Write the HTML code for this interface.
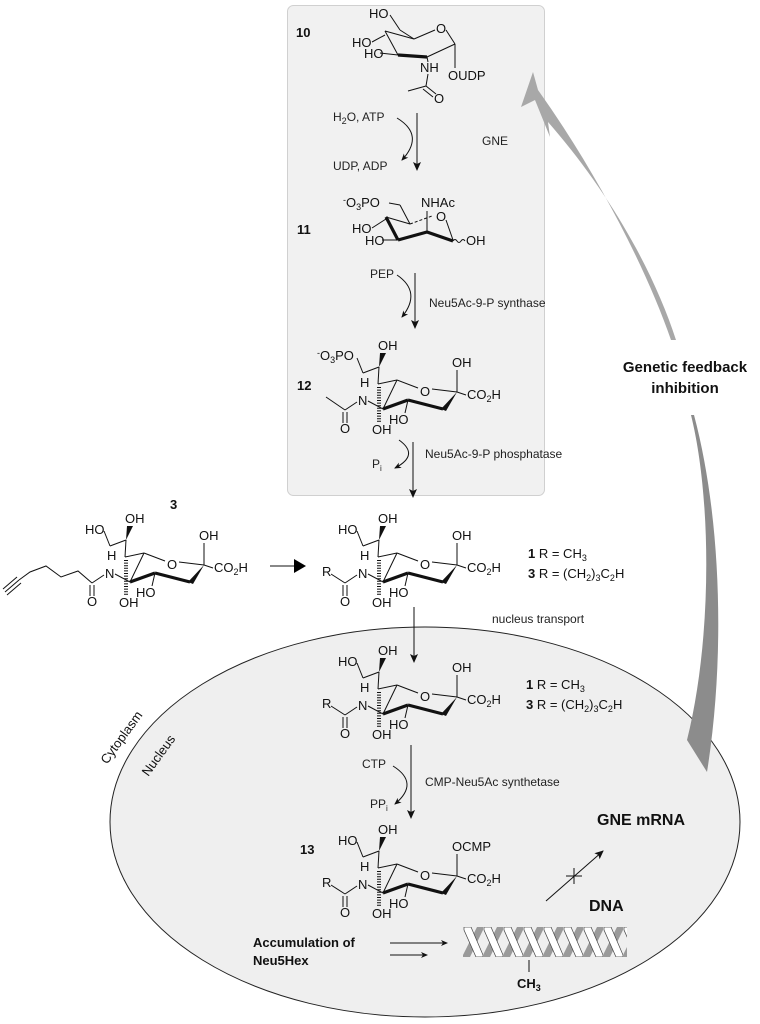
<!DOCTYPE html>
<html><head><meta charset="utf-8"><style>
html,body{margin:0;padding:0;background:#fff;}
svg{display:block;font-family:"Liberation Sans",Arial,sans-serif;}
.t{font-size:13px;fill:#111;}
.s{font-size:12px;fill:#222;}
.b{font-weight:bold;}
line,polyline,path.l{stroke:#111;stroke-width:1;fill:none;}
.bold{stroke-width:3.2;}
.hash{stroke-width:4;stroke-dasharray:1 1.6;}
</style></head><body>
<svg width="760" height="1024" viewBox="0 0 760 1024" xmlns="http://www.w3.org/2000/svg">
<defs>
<marker id="ah" markerWidth="10" markerHeight="10" refX="8" refY="5" orient="auto" markerUnits="userSpaceOnUse"><path d="M0,1 L9,5 L0,9 L2,5 Z" fill="#111"/></marker>
<marker id="sh" markerWidth="8" markerHeight="8" refX="6" refY="4" orient="auto" markerUnits="userSpaceOnUse"><path d="M0,1 L7,4 L0,7 L2,4 Z" fill="#111"/></marker>
<pattern id="hx" x="463" y="927" width="20" height="30" patternUnits="userSpaceOnUse">
<polygon points="0,30 7,30 20,3 20,0 14,0 0,28" fill="#9a9a9a"/>
<polygon points="1,0 8,0 20,28 20,30 13,30 1,3" fill="#fff" stroke="#444" stroke-width="0.7"/>
</pattern>
</defs>

<ellipse cx="425" cy="822" rx="315" ry="195" fill="#efefef" stroke="#222" stroke-width="1"/>
<rect x="287.5" y="5.5" width="257" height="490" rx="6" fill="#f1f1f1" stroke="#d0d0d0"/>

<path d="M671 340 C 645 265, 595 170, 538 90 L 533 72 L 521 107 L 535 100 L 550 137 L 548 122 C 612 195, 655 275, 676 340 Z" fill="#a8a8a8"/>
<path d="M691 415 C 712 500, 712 640, 687 740 L 707 772 C 725 660, 722 520, 694 415 Z" fill="#8c8c8c"/>
<text x="685" y="372" class="b" font-size="15" text-anchor="middle" fill="#111">Genetic feedback</text>
<text x="685" y="393" class="b" font-size="15" text-anchor="middle" fill="#111">inhibition</text>

<!-- compound 10 -->
<text x="296" y="37" class="t b" font-size="12">10</text>
<text x="369" y="18" class="t">HO</text>
<text x="436" y="33" class="t">O</text>
<text x="352" y="47" class="t">HO</text>
<text x="364" y="58" class="t">HO</text>
<text x="420" y="72" class="t">NH</text>
<text x="448" y="80" class="t">OUDP</text>
<text x="434" y="103" class="t">O</text>
<line x1="390" y1="15" x2="400" y2="30"/><line x1="400" y1="30" x2="414" y2="39"/>
<line x1="385" y1="31" x2="414" y2="39"/><line x1="414" y1="39" x2="435" y2="30"/>
<line x1="446" y1="30" x2="455" y2="44"/>
<line x1="385" y1="31" x2="398" y2="55"/>
<line class="bold" x1="398" y1="55" x2="427" y2="57"/><line x1="427" y1="57" x2="455" y2="44"/>
<line x1="372" y1="42" x2="385" y2="35"/><line x1="380" y1="53" x2="398" y2="55"/>
<line x1="427" y1="57" x2="428" y2="62"/><line x1="455" y1="44" x2="455" y2="68"/>
<line x1="428" y1="74" x2="426" y2="86"/><line x1="426" y1="86" x2="408" y2="91"/>
<line x1="426" y1="86" x2="436" y2="94"/><line x1="423" y1="89" x2="433" y2="97"/>

<line x1="417" y1="113" x2="417" y2="170" marker-end="url(#ah)"/>
<text x="333" y="121" class="s">H<tspan font-size="9" dy="3">2</tspan><tspan dy="-3">O, ATP</tspan></text>
<path class="l" d="M397 118 Q 425 135 402 160" marker-end="url(#sh)"/>
<text x="333" y="170" class="s">UDP, ADP</text>
<text x="482" y="145" class="s">GNE</text>

<!-- compound 11 -->
<text x="297" y="234" class="t b" font-size="12">11</text>
<text x="343" y="207" class="t"><tspan font-size="9" dy="-4">-</tspan><tspan dy="4">O</tspan><tspan font-size="9" dy="3">3</tspan><tspan dy="-3">PO</tspan></text>
<text x="421" y="207" class="t">NHAc</text>
<text x="436" y="221" class="t">O</text>
<text x="352" y="233" class="t">HO</text>
<text x="365" y="245" class="t">HO</text>
<text x="466" y="245" class="t">OH</text>
<line x1="389" y1="203" x2="400" y2="205"/><line x1="400" y1="205" x2="410" y2="224"/>
<line x1="386" y1="217" x2="410" y2="224"/><line x1="410" y1="224" x2="432" y2="216" stroke-dasharray="3 2"/>
<line x1="446" y1="220" x2="453" y2="240"/>
<line class="bold" x1="386" y1="217" x2="398" y2="240"/>
<line class="bold" x1="398" y1="240" x2="427" y2="232"/><line class="bold" x1="427" y1="232" x2="453" y2="241"/>
<line x1="427" y1="232" x2="427" y2="211"/>
<line x1="372" y1="228" x2="386" y2="219"/><line x1="382" y1="240" x2="398" y2="240"/>
<path class="l" d="M453 241 q2 -3 4 0 q2 3 4 0 q2 -3 4 0"/>

<line x1="415" y1="273" x2="415" y2="328" marker-end="url(#ah)"/>
<text x="370" y="278" class="s">PEP</text>
<path class="l" d="M397 275 Q 422 292 402 317" marker-end="url(#sh)"/>
<text x="429" y="307" class="s">Neu5Ac-9-P synthase</text>

<!-- compound 12 -->
<text x="297" y="390" class="t b" font-size="12">12</text>
<g transform="translate(0,-173)">
<line x1="357" y1="531" x2="363" y2="546"/><line x1="363" y1="546" x2="379" y2="540"/>
<polygon points="379,540 380,526 386,526" fill="#111"/>
<line x1="379" y1="540" x2="378" y2="557"/><line x1="378" y1="557" x2="397" y2="553"/>
<line x1="397" y1="553" x2="418" y2="561"/><line x1="432" y1="562" x2="457" y2="565"/>
<line x1="457" y1="565" x2="457" y2="543"/><line x1="457" y1="565" x2="466" y2="568"/>
<polygon points="457,565 441,582 446,584" fill="#111"/>
<line class="bold" x1="443" y1="582" x2="408" y2="573"/><line class="bold" x1="408" y1="573" x2="383" y2="582"/>
<line x1="397" y1="553" x2="383" y2="582"/><line x1="408" y1="573" x2="405" y2="586"/>
<line class="hash" x1="379" y1="560" x2="379" y2="596"/>
<line x1="383" y1="582" x2="368" y2="574"/><line x1="357" y1="575" x2="345" y2="583"/>
<line x1="345" y1="583" x2="326" y2="570"/>
<line x1="343" y1="585" x2="343" y2="596"/><line x1="347" y1="585" x2="347" y2="596"/>
<text x="317" y="533" class="t"><tspan font-size="9" dy="-4">-</tspan><tspan dy="4">O</tspan><tspan font-size="9" dy="3">3</tspan><tspan dy="-3">PO</tspan></text>
<text x="378" y="523" class="t">OH</text><text x="360" y="560" class="t">H</text><text x="358" y="578" class="t">N</text>
<text x="340" y="606" class="t">O</text><text x="372" y="607" class="t">OH</text><text x="389" y="597" class="t">HO</text>
<text x="420" y="569" class="t">O</text><text x="452" y="540" class="t">OH</text>
<text x="467" y="572" class="t">CO<tspan font-size="9" dy="3">2</tspan><tspan dy="-3">H</tspan></text>
</g>

<line x1="413" y1="442" x2="413" y2="497" marker-end="url(#ah)"/>
<path class="l" d="M399 440 Q 420 455 395 468" marker-end="url(#sh)"/>
<text x="425" y="458" class="s">Neu5Ac-9-P phosphatase</text>
<text x="372" y="468" class="s">P<tspan font-size="8" dy="3">i</tspan></text>

<!-- compound 3 -->
<text x="170" y="509" class="t b" font-size="12">3</text>
<g transform="translate(-253,0)">
<line x1="357" y1="531" x2="363" y2="546"/><line x1="363" y1="546" x2="379" y2="540"/>
<polygon points="379,540 380,526 386,526" fill="#111"/>
<line x1="379" y1="540" x2="378" y2="557"/><line x1="378" y1="557" x2="397" y2="553"/>
<line x1="397" y1="553" x2="418" y2="561"/><line x1="432" y1="562" x2="457" y2="565"/>
<line x1="457" y1="565" x2="457" y2="543"/><line x1="457" y1="565" x2="466" y2="568"/>
<polygon points="457,565 441,582 446,584" fill="#111"/>
<line class="bold" x1="443" y1="582" x2="408" y2="573"/><line class="bold" x1="408" y1="573" x2="383" y2="582"/>
<line x1="397" y1="553" x2="383" y2="582"/><line x1="408" y1="573" x2="405" y2="586"/>
<line class="hash" x1="379" y1="560" x2="379" y2="596"/>
<line x1="383" y1="582" x2="368" y2="574"/><line x1="357" y1="575" x2="345" y2="583"/>
<line x1="343" y1="585" x2="343" y2="596"/><line x1="347" y1="585" x2="347" y2="596"/>
<text x="338" y="534" class="t">HO</text>
<text x="378" y="523" class="t">OH</text><text x="360" y="560" class="t">H</text><text x="358" y="578" class="t">N</text>
<text x="340" y="606" class="t">O</text><text x="372" y="607" class="t">OH</text><text x="389" y="597" class="t">HO</text>
<text x="420" y="569" class="t">O</text><text x="452" y="540" class="t">OH</text>
<text x="467" y="572" class="t">CO<tspan font-size="9" dy="3">2</tspan><tspan dy="-3">H</tspan></text>
</g>
<polyline points="92,583 78,571 61,577 46,566 30,572 19,580"/>
<line x1="19" y1="580" x2="5" y2="592"/><line x1="17" y1="577" x2="3" y2="589"/><line x1="21" y1="583" x2="7" y2="595"/>
<line x1="270" y1="566" x2="296" y2="566" stroke="#000" stroke-width="5"/>
<polygon points="294,559 306,566 294,573" fill="#000"/>

<!-- compound B -->
<g>
<line x1="357" y1="531" x2="363" y2="546"/><line x1="363" y1="546" x2="379" y2="540"/>
<polygon points="379,540 380,526 386,526" fill="#111"/>
<line x1="379" y1="540" x2="378" y2="557"/><line x1="378" y1="557" x2="397" y2="553"/>
<line x1="397" y1="553" x2="418" y2="561"/><line x1="432" y1="562" x2="457" y2="565"/>
<line x1="457" y1="565" x2="457" y2="543"/><line x1="457" y1="565" x2="466" y2="568"/>
<polygon points="457,565 441,582 446,584" fill="#111"/>
<line class="bold" x1="443" y1="582" x2="408" y2="573"/><line class="bold" x1="408" y1="573" x2="383" y2="582"/>
<line x1="397" y1="553" x2="383" y2="582"/><line x1="408" y1="573" x2="405" y2="586"/>
<line class="hash" x1="379" y1="560" x2="379" y2="596"/>
<line x1="383" y1="582" x2="368" y2="574"/><line x1="357" y1="575" x2="345" y2="583"/>
<line x1="345" y1="583" x2="331" y2="574"/>
<line x1="343" y1="585" x2="343" y2="596"/><line x1="347" y1="585" x2="347" y2="596"/>
<text x="338" y="534" class="t">HO</text><text x="322" y="576" class="t">R</text>
<text x="378" y="523" class="t">OH</text><text x="360" y="560" class="t">H</text><text x="358" y="578" class="t">N</text>
<text x="340" y="606" class="t">O</text><text x="372" y="607" class="t">OH</text><text x="389" y="597" class="t">HO</text>
<text x="420" y="569" class="t">O</text><text x="452" y="540" class="t">OH</text>
<text x="467" y="572" class="t">CO<tspan font-size="9" dy="3">2</tspan><tspan dy="-3">H</tspan></text>
</g>
<text x="528" y="558" class="t"><tspan font-weight="bold">1</tspan> R = CH<tspan font-size="9" dy="3">3</tspan></text>
<text x="528" y="578" class="t"><tspan font-weight="bold">3</tspan> R = (CH<tspan font-size="9" dy="3">2</tspan><tspan dy="-3">)</tspan><tspan font-size="9" dy="3">3</tspan><tspan dy="-3">C</tspan><tspan font-size="9" dy="3">2</tspan><tspan dy="-3">H</tspan></text>

<line x1="414" y1="607" x2="414" y2="662" marker-end="url(#ah)"/>
<text x="492" y="623" class="s">nucleus transport</text>

<!-- compound C -->
<g transform="translate(0,132)">
<line x1="357" y1="531" x2="363" y2="546"/><line x1="363" y1="546" x2="379" y2="540"/>
<polygon points="379,540 380,526 386,526" fill="#111"/>
<line x1="379" y1="540" x2="378" y2="557"/><line x1="378" y1="557" x2="397" y2="553"/>
<line x1="397" y1="553" x2="418" y2="561"/><line x1="432" y1="562" x2="457" y2="565"/>
<line x1="457" y1="565" x2="457" y2="543"/><line x1="457" y1="565" x2="466" y2="568"/>
<polygon points="457,565 441,582 446,584" fill="#111"/>
<line class="bold" x1="443" y1="582" x2="408" y2="573"/><line class="bold" x1="408" y1="573" x2="383" y2="582"/>
<line x1="397" y1="553" x2="383" y2="582"/><line x1="408" y1="573" x2="405" y2="586"/>
<line class="hash" x1="379" y1="560" x2="379" y2="596"/>
<line x1="383" y1="582" x2="368" y2="574"/><line x1="357" y1="575" x2="345" y2="583"/>
<line x1="345" y1="583" x2="331" y2="574"/>
<line x1="343" y1="585" x2="343" y2="596"/><line x1="347" y1="585" x2="347" y2="596"/>
<text x="338" y="534" class="t">HO</text><text x="322" y="576" class="t">R</text>
<text x="378" y="523" class="t">OH</text><text x="360" y="560" class="t">H</text><text x="358" y="578" class="t">N</text>
<text x="340" y="606" class="t">O</text><text x="372" y="607" class="t">OH</text><text x="389" y="597" class="t">HO</text>
<text x="420" y="569" class="t">O</text><text x="452" y="540" class="t">OH</text>
<text x="467" y="572" class="t">CO<tspan font-size="9" dy="3">2</tspan><tspan dy="-3">H</tspan></text>
</g>
<text x="526" y="689" class="t"><tspan font-weight="bold">1</tspan> R = CH<tspan font-size="9" dy="3">3</tspan></text>
<text x="526" y="709" class="t"><tspan font-weight="bold">3</tspan> R = (CH<tspan font-size="9" dy="3">2</tspan><tspan dy="-3">)</tspan><tspan font-size="9" dy="3">3</tspan><tspan dy="-3">C</tspan><tspan font-size="9" dy="3">2</tspan><tspan dy="-3">H</tspan></text>

<text x="0" y="0" class="t" transform="translate(125,740) rotate(-54)" text-anchor="middle">Cytoplasm</text>
<text x="0" y="0" class="t" transform="translate(162,758) rotate(-54)" text-anchor="middle">Nucleus</text>

<line x1="411" y1="745" x2="411" y2="818" marker-end="url(#ah)"/>
<text x="362" y="768" class="s">CTP</text>
<path class="l" d="M393 766 Q 420 783 395 804" marker-end="url(#sh)"/>
<text x="425" y="786" class="s">CMP-Neu5Ac synthetase</text>
<text x="370" y="808" class="s">PP<tspan font-size="8" dy="3">i</tspan></text>

<!-- compound 13 -->
<text x="300" y="854" class="t b" font-size="12">13</text>
<g transform="translate(0,311)">
<line x1="357" y1="531" x2="363" y2="546"/><line x1="363" y1="546" x2="379" y2="540"/>
<polygon points="379,540 380,526 386,526" fill="#111"/>
<line x1="379" y1="540" x2="378" y2="557"/><line x1="378" y1="557" x2="397" y2="553"/>
<line x1="397" y1="553" x2="418" y2="561"/><line x1="432" y1="562" x2="457" y2="565"/>
<line x1="457" y1="565" x2="457" y2="543"/><line x1="457" y1="565" x2="466" y2="568"/>
<polygon points="457,565 441,582 446,584" fill="#111"/>
<line class="bold" x1="443" y1="582" x2="408" y2="573"/><line class="bold" x1="408" y1="573" x2="383" y2="582"/>
<line x1="397" y1="553" x2="383" y2="582"/><line x1="408" y1="573" x2="405" y2="586"/>
<line class="hash" x1="379" y1="560" x2="379" y2="596"/>
<line x1="383" y1="582" x2="368" y2="574"/><line x1="357" y1="575" x2="345" y2="583"/>
<line x1="345" y1="583" x2="331" y2="574"/>
<line x1="343" y1="585" x2="343" y2="596"/><line x1="347" y1="585" x2="347" y2="596"/>
<text x="338" y="534" class="t">HO</text><text x="322" y="576" class="t">R</text>
<text x="378" y="523" class="t">OH</text><text x="360" y="560" class="t">H</text><text x="358" y="578" class="t">N</text>
<text x="340" y="606" class="t">O</text><text x="372" y="607" class="t">OH</text><text x="389" y="597" class="t">HO</text>
<text x="420" y="569" class="t">O</text><text x="452" y="540" class="t">OCMP</text>
<text x="467" y="572" class="t">CO<tspan font-size="9" dy="3">2</tspan><tspan dy="-3">H</tspan></text>
</g>

<text x="253" y="947" class="t b">Accumulation of</text>
<text x="253" y="965" class="t b">Neu5Hex</text>
<line x1="390" y1="943" x2="447" y2="943" marker-end="url(#sh)"/>
<line x1="390" y1="955" x2="427" y2="955" marker-end="url(#sh)"/>

<rect x="463" y="927" width="164" height="30" fill="url(#hx)"/>
<line x1="529" y1="960" x2="529" y2="972"/>
<text x="517" y="988" class="t b" font-size="12">CH<tspan font-size="9" dy="3">3</tspan></text>
<text x="589" y="911" class="b" font-size="16" fill="#111">DNA</text>
<text x="597" y="825" class="b" font-size="16" fill="#111">GNE mRNA</text>
<line x1="546" y1="901" x2="603" y2="851" marker-end="url(#ah)"/>
<line x1="574" y1="868" x2="574" y2="884"/><line x1="566" y1="876" x2="582" y2="876"/>
</svg>
</body></html>
